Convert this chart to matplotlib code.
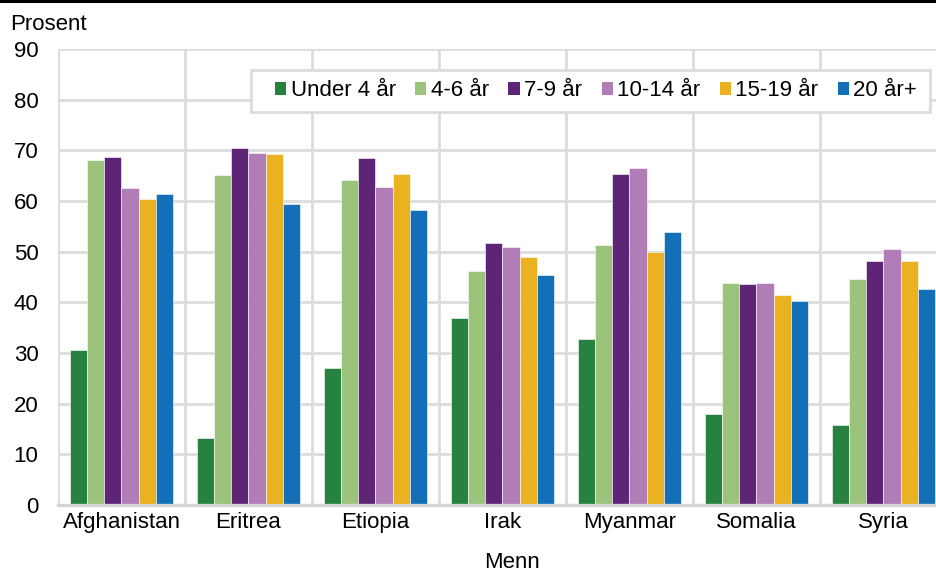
import matplotlib
matplotlib.use("Agg")
import matplotlib.pyplot as plt
from matplotlib.lines import Line2D
from matplotlib.patches import Patch, Rectangle
import numpy as np

plt.rcParams['font.family'] = ['Liberation Sans', 'DejaVu Sans']

countries = ["Afghanistan", "Eritrea", "Etiopia", "Irak", "Myanmar", "Somalia", "Syria"]
groups = ["Under 4 år", "4-6 år", "7-9 år", "10-14 år", "15-19 år", "20 år+"]

under4 = [30.6, 13.2, 27.1, 36.9, 32.7, 18.0, 15.8]
age4_6 = [68.0, 65.2, 64.2, 46.2, 51.4, 43.9, 44.7]
age7_9 = [68.6, 70.4, 68.4, 51.8, 65.4, 43.6, 48.1]
age10_14 = [62.6, 69.4, 62.7, 50.9, 66.5, 43.9, 50.5]
age15_19 = [60.4, 69.2, 65.3, 48.9, 50.0, 41.4, 48.1]
age20 = [61.3, 59.4, 58.2, 45.3, 53.8, 40.3, 42.6]

series = [under4, age4_6, age7_9, age10_14, age15_19, age20]
colors = ["#278240", "#9cc37c", "#5e2577", "#b17db6", "#eab221", "#136fb7"]
grid_col = "#dcdcdc"
fs = 16

fig = plt.figure(figsize=(9.37, 5.72), dpi=100)
# plot area runs past the right edge (the original is cropped there)
ax = fig.add_axes([58/937, 1-505/572, 889/937, 456/572])

x = np.arange(len(countries))
w = 0.134
for i, (vals, c) in enumerate(zip(series, colors)):
    ax.bar(x + (i - 2.5)*w, vals, w, color=c, edgecolor="white", linewidth=0.4,
           zorder=3, label=groups[i])

ax.set_xlim(-0.5, len(countries) - 0.5)
ax.set_ylim(0, 90)
ax.set_yticks(range(0, 91, 10))
ax.set_xticks(x)
ax.set_xticklabels(countries)
ax.set_xticks(np.arange(-0.5, len(countries), 1), minor=True)
ax.tick_params(axis="both", which="both", length=0, labelsize=fs)
ax.tick_params(axis="y", pad=14)
ax.tick_params(axis="x", pad=5)
ax.grid(True, axis="y", color=grid_col, linewidth=2.0, zorder=0)
ax.grid(True, axis="x", which="minor", color=grid_col, linewidth=2.0, zorder=0)
ax.grid(False, axis="x", which="major")
for s in ["top", "right", "left"]:
    ax.spines[s].set_visible(False)
ax.spines["bottom"].set_color("#d4d4d4")
ax.spines["bottom"].set_linewidth(2.4)
ax.spines["bottom"].set_zorder(4)

fig.text(10/937, 1-24/572, "Prosent", fontsize=fs, va="center", ha="left")
fig.text(512/937, 1-563/572, "Menn", fontsize=fs, va="center", ha="center")

# legend box drawn separately so the side padding can differ from the top/bottom
fig.add_artist(Rectangle((251/937, 1-112/572), 679/937, 42/572,
                         transform=fig.transFigure, facecolor="white",
                         edgecolor=grid_col, linewidth=2.0, zorder=5))
handles = [Patch(facecolor=c, edgecolor="none") for c in colors]
leg = fig.legend(handles, groups, ncol=6, loc="center left",
                 bbox_to_anchor=(275/937, 1-91/572), fontsize=fs,
                 frameon=False, handlelength=0.5, handleheight=0.5,
                 handletextpad=0.2, columnspacing=0.88, borderpad=0,
                 borderaxespad=0)
leg.set_zorder(6)

fig.add_artist(Line2D([0, 1], [1-1.2/572, 1-1.2/572], color="black", linewidth=2.2,
                      transform=fig.transFigure))

fig.savefig("out.png", dpi=100)
